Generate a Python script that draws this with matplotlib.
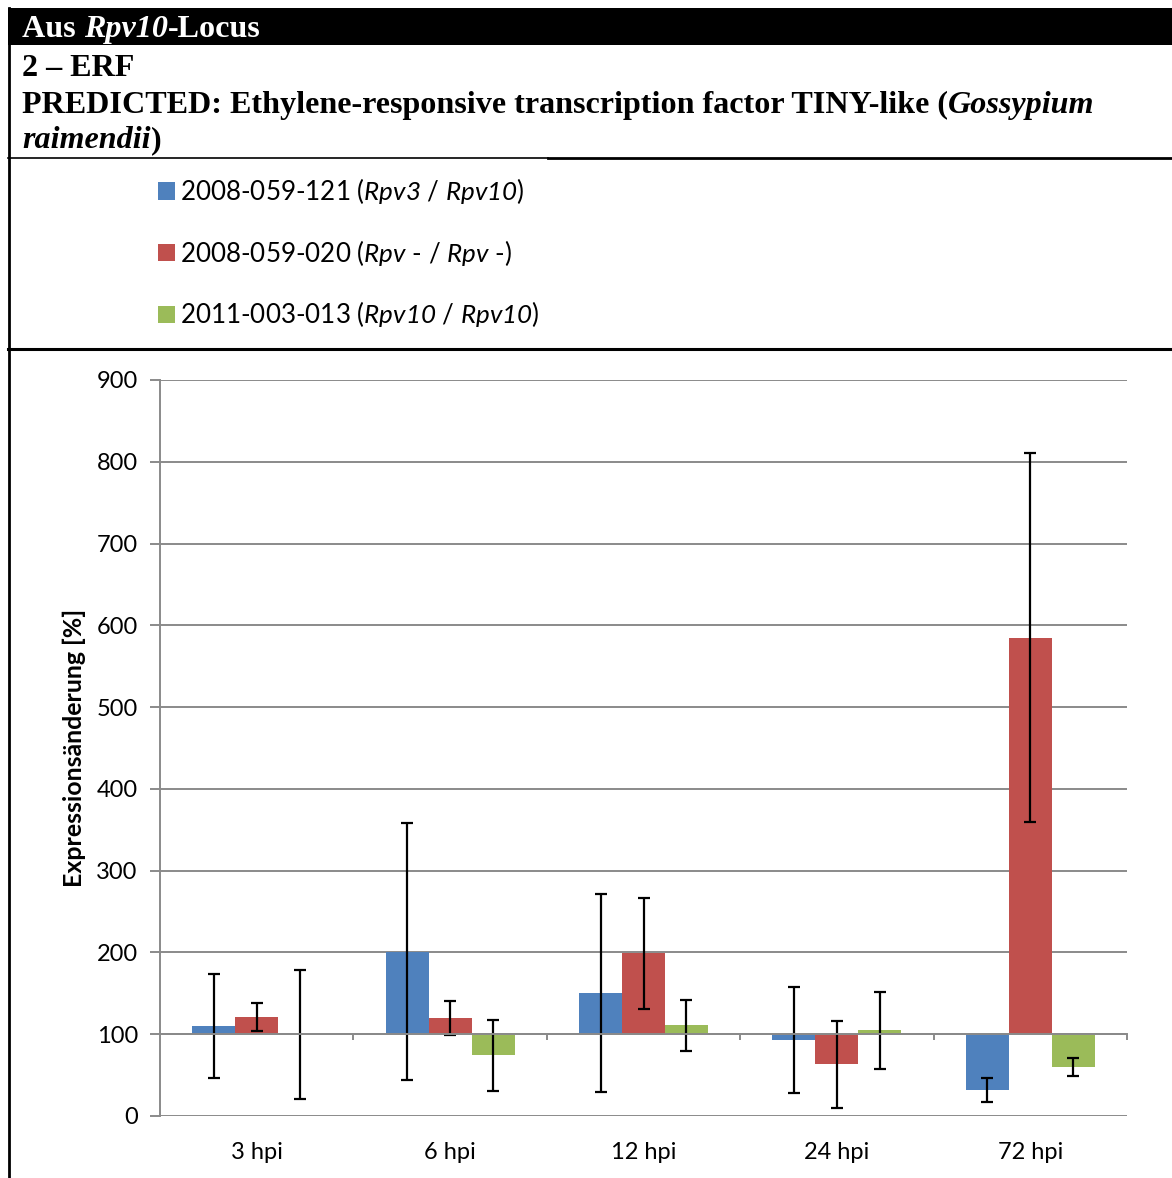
import numpy as np
import matplotlib
matplotlib.use("Agg")
from matplotlib import pyplot as plt
from matplotlib.patches import Rectangle
from matplotlib.lines import Line2D

plt.rcParams['font.family'] = ['Lato', 'DejaVu Sans']
plt.rcParams['mathtext.fontset'] = 'custom'
# everything inside $...$ is an italic name, digits too
plt.rcParams['mathtext.rm'] = 'Lato:italic'
plt.rcParams['mathtext.it'] = 'Lato:italic'

# data (expression change in %, bars start at 100)
times     = ["3 hpi", "6 hpi", "12 hpi", "24 hpi", "72 hpi"]
labels    = ["2008-059-121 ($\\mathit{Rpv3}$ / $\\mathit{Rpv10}$)",
             "2008-059-020 ($\\mathit{Rpv}$ - / $\\mathit{Rpv}$ -)",
             "2011-003-013 ($\\mathit{Rpv10}$ / $\\mathit{Rpv10}$)"]
blue      = [110, 201, 150, 93, 32]
blue_err  = [64, 157, 121, 65, 15]
red       = [121, 120, 199, 63, 585]
red_err   = [17, 21, 68, 53, 226]
green     = [100, 74, 111, 105, 60]
green_err = [79, 43, 31, 47, 11]
colors    = ["#4F81BD", "#C0504D", "#9BBB59"]
yticks    = np.arange(0, 901, 100)

W, H = 1172, 1178
fig = plt.figure(figsize=(W/100, H/100), dpi=100)

def fx(x): return x / W
def fy(y): return 1 - y / H

# ---- table frame around the chart
fig.add_artist(Rectangle((fx(8), fy(45)), fx(W) - fx(8), fy(8) - fy(45),
                         transform=fig.transFigure, color="black", lw=0))
fig.add_artist(Line2D([fx(8.5), fx(8.5)], [fy(8), fy(H)], transform=fig.transFigure,
                      color="black", lw=2))
fig.add_artist(Line2D([fx(8), fx(548)], [fy(158), fy(158)], transform=fig.transFigure,
                      color="black", lw=1.2))
fig.add_artist(Line2D([fx(548), fx(W)], [fy(158), fy(158)], transform=fig.transFigure,
                      color="black", lw=2))
fig.add_artist(Line2D([fx(8), fx(W)], [fy(348.5), fy(348.5)], transform=fig.transFigure,
                      color="black", lw=2.2))

# ---- header text, bold serif with italic pieces
renderer = fig.canvas.get_renderer()

def width(s, **kw):
    a = fig.text(0, 0, s + "|", **kw)
    b = fig.text(0, 0, "|", **kw)
    w = a.get_window_extent(renderer).width - b.get_window_extent(renderer).width
    a.remove(); b.remove()
    return w

def rich(y, parts, color="black", size=23.15):
    x = 22
    for s, st in parts:
        kw = dict(fontsize=size, family="Liberation Serif", weight="bold", style=st, color=color)
        fig.text(fx(x), fy(y), s, va="baseline", ha="left", **kw)
        x += width(s, **kw)

rich(37, [("Aus ", "normal"), ("Rpv10", "italic"), ("-Locus", "normal")], color="white")
rich(76, [("2 \u2013 ERF", "normal")])
rich(113, [("PREDICTED: Ethylene-responsive transcription factor TINY-like (", "normal"),
           ("Gossypium", "italic")])
rich(148, [("raimendii", "italic"), (")", "normal")])

# ---- chart
ax = fig.add_axes([fx(160), fy(1116), fx(1127) - fx(160), fy(380) - fy(1116)])
x = np.arange(len(times))
w = 1 / 4.5
ekw = dict(ecolor="black", elinewidth=1.6, capsize=4.5, capthick=1.6)
bars = []
for i, (v, e) in enumerate([(blue, blue_err), (red, red_err), (green, green_err)]):
    v = np.array(v)
    b = ax.bar(x + (i - 1) * w, v - 100, w, bottom=100, color=colors[i],
               yerr=e, error_kw=ekw)
    bars.append(b)

grey = "#8a8a8a"
ax.set_xlim(-0.5, len(times) - 0.5)
ax.set_ylim(0, 900)
ax.set_yticks(yticks)
ax.yaxis.grid(True, color=grey, lw=1.4)
ax.set_axisbelow(True)
for s in ["top", "right"]:
    ax.spines[s].set_visible(False)
ax.spines["left"].set_color(grey)
ax.spines["left"].set_linewidth(1.4)
ax.spines["bottom"].set_color(grey)
ax.spines["bottom"].set_linewidth(1.4)
ax.spines["bottom"].set_position(("data", 100))
ax.set_xticks(x + 0.5, [""] * len(times))
ax.tick_params(axis="x", direction="out", length=4.5, width=1.4, color=grey)
ax.tick_params(axis="y", direction="out", length=7, width=1.4, color=grey,
               pad=9, labelsize=17)

sec = ax.secondary_xaxis(0)
sec.set_xticks(x, times)
sec.tick_params(length=0, pad=19, labelsize=17)
sec.spines["bottom"].set_visible(False)

ax.set_ylabel("Expressions\u00e4nderung [%]", fontsize=17.9, weight="bold")
ax.yaxis.set_label_coords(-0.077, 0.5)

fig.legend(bars, labels, loc="upper left", bbox_to_anchor=(fx(158), fy(176)),
           frameon=False, fontsize=18.7, borderpad=0, borderaxespad=0,
           handlelength=0.65, handleheight=0.65, handletextpad=0.2,
           labelspacing=1.22)

fig.savefig("out.png", dpi=100)
